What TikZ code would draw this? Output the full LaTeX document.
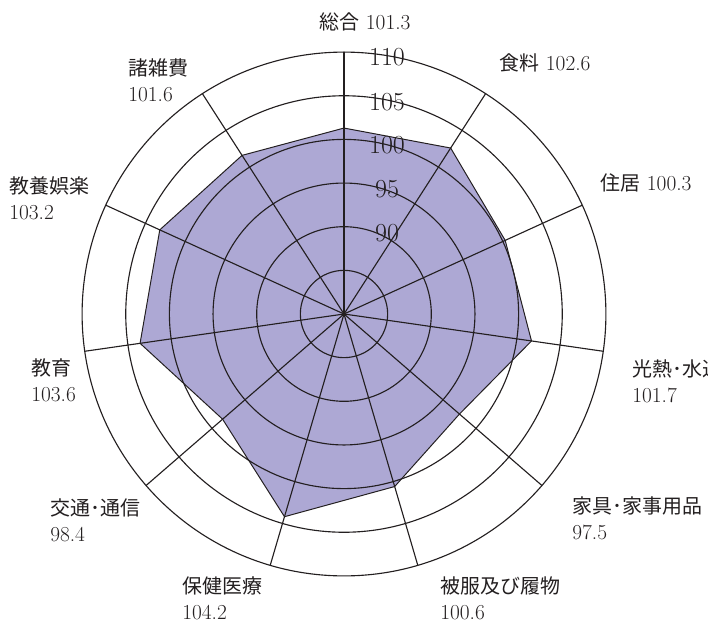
\documentclass[tikz,border=0pt]{standalone}
\usepackage{fontspec}
\newfontfamily\jpfont{Noto Sans CJK JP}
\usetikzlibrary{positioning}
\definecolor{chartfill}{RGB}{173,168,212}
\definecolor{chartline}{RGB}{35,31,32}
% radius of an index value (80 at the centre)
\newcommand*\myrad[1]{(#1-80)*8.73}
\newcommand*\myjp[1]{{\fontsize{14.2}{18.4}\selectfont\jpfont #1}}
\tikzset{
  gridline/.style={chartline,line width=0.8pt},
  datapoly/.style={fill=chartfill,draw=chartline,line width=0.7pt},
  catlabel/.style={inner sep=0pt,anchor=west,align=left,text=chartline,
    font=\fontsize{15.2}{18.4}\selectfont},
  scalelabel/.style={inner sep=0pt,text=chartline,font=\fontsize{18.5}{20}\selectfont}
}

\begin{document}
\begin{tikzpicture}[x=0.025cm,y=0.025cm,line cap=round,line join=round]
\useasboundingbox (-344,-311) rectangle (364,314);
\coordinate (O) at (0,0);

\foreach \v [count=\i from 0] in {101.3,102.6,100.3,101.7,97.5,100.6,104.2,98.4,103.6,103.2,101.6}
  \coordinate (P\i) at ({90-\i*360/11}:{\myrad{\v}});
\filldraw[datapoly] (P0) -- (P1) -- (P2) -- (P3) -- (P4) -- (P5) -- (P6) -- (P7) -- (P8) -- (P9) -- (P10) -- cycle;

\foreach \r in {85,90,...,110}
  \draw[gridline] (O) circle[radius={\myrad{\r}}];
\foreach \i in {0,...,10} {
  \coordinate (A\i) at ({90-\i*360/11}:{\myrad{110}});
  \draw[gridline] (O) -- (A\i);
}

% scale
\foreach \s/\y in {90/81,95/125,100/169,105/212,110/257}
  \node[scalelabel] (s\s) at (43,\y) {\s};

% categories
\node[catlabel,anchor=center] (total) at (21,292) {\myjp{総合} 101.3};
\node[catlabel,anchor=center] (food) at (201,251) {\myjp{食料} 102.6};
\node[catlabel,anchor=center] (housing) at (302,131) {\myjp{住居} 100.3};
\node[catlabel] (fuel) at (288,-67) {\myjp{光熱･水道}\\101.7};
\node[catlabel] (furniture) at (228,-204) {\myjp{家具･家事用品}\\97.5};
\node[catlabel] (clothing) at (96,-284) {\myjp{被服及び履物}\\100.6};
\node[catlabel] (medical) at (-162,-284) {\myjp{保健医療}\\104.2};
\node[catlabel] (transport) at (-294,-206) {\myjp{交通･通信}\\98.4};
\node[catlabel] (education) at (-313,-66) {\myjp{教育}\\103.6};
\node[catlabel] (culture) at (-335,116) {\myjp{教養娯楽}\\103.2};
\node[catlabel] (misc) at (-216,234) {\myjp{諸雑費}\\101.6};
\end{tikzpicture}
\end{document}
